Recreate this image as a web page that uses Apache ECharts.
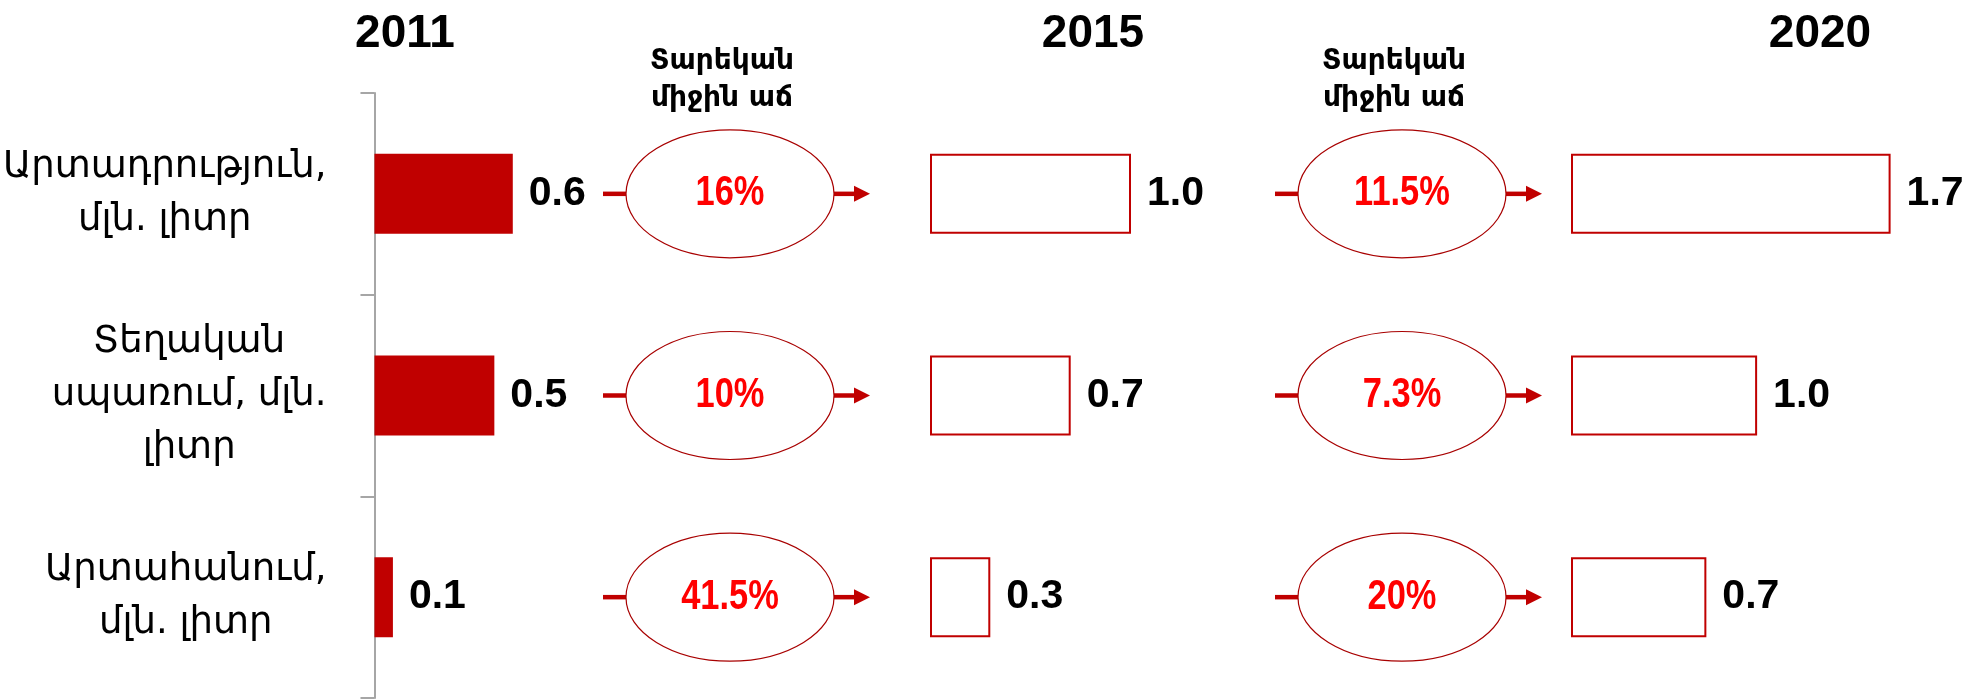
<!DOCTYPE html>
<html>
<head>
<meta charset="utf-8">
<script src="https://cdn.jsdelivr.net/npm/echarts@6/dist/echarts.min.js"></script>
<style>
html,body{margin:0;padding:0;background:#fff;}
#chart{width:1977px;height:699px;}
</style>
</head>
<body>
<div id="chart"></div>
<script>
// ---- data ----
const categories = ['Արտադրություն,\nմլն. լիտր', 'Տեղական\nսպառում, մլն.\nլիտր', 'Արտահանում,\nմլն. լիտր'];
const years = ['2011', '2015', '2020'];
const values2011 = [0.6, 0.52, 0.08];
const values2015 = [1.0, 0.7, 0.3];
const values2020 = [1.7, 0.99, 0.72];
const growth2011to2015 = [16, 10, 41.5];
const growth2015to2020 = [11.5, 7.3, 20];
const growthHeader = 'Տարեկան\nմիջին աճ';

// ---- styles ----
const RED = '#C00000';
const TOP = 93, HEIGHT = 605;
const armFont = "'DejaVu Sans', sans-serif";
const numFont = "'Liberation Sans', Arial, sans-serif";

const chart = echarts.init(document.getElementById('chart'), null, {renderer: 'canvas'});

function catAxis(gridIndex, show) {
  return {
    type: 'category', gridIndex: gridIndex, data: categories, inverse: true,
    show: show,
    axisLine: {show: show, lineStyle: {color: '#A6A6A6', width: 2}},
    axisTick: {show: show, length: 14, lineStyle: {color: '#A6A6A6', width: 2}},
    axisLabel: {
      show: show, interval: 0, margin: 48, align: 'right',
      formatter: function (v) {
        return v.split('\n').map(function (s) { return '{c|' + s + '}'; }).join('\n');
      },
      rich: {c: {align: 'center', fontSize: 37, lineHeight: 53, fontFamily: armFont, color: '#000'}}
    }
  };
}
function valAxis(gridIndex, min, max) {
  return {type: 'value', gridIndex: gridIndex, min: min, max: max, show: false, splitLine: {show: false}};
}
function valueLabel() {
  return {
    show: true, position: 'right', distance: 16,
    fontFamily: numFont, fontWeight: 'bold', fontSize: 41, color: '#000',
    formatter: function (p) { return p.value.toFixed(1); }
  };
}
function growthRender(params, api) {
  const c = api.coord([0, api.value(1)]);
  const cx = c[0], cy = c[1], rx = 104, ry = 64;
  const stub = 23, arrow = 36, head = 16;
  return {
    type: 'group',
    children: [
      {type: 'line', shape: {x1: cx - rx - stub, y1: cy, x2: cx - rx, y2: cy}, style: {stroke: RED, lineWidth: 4.5}},
      {type: 'line', shape: {x1: cx + rx, y1: cy, x2: cx + rx + arrow - head + 1, y2: cy}, style: {stroke: RED, lineWidth: 4.5}},
      {type: 'polygon', shape: {points: [[cx + rx + arrow - head, cy - 8], [cx + rx + arrow, cy], [cx + rx + arrow - head, cy + 8]]}, style: {fill: RED}},
      {type: 'ellipse', shape: {cx: cx, cy: cy, rx: rx, ry: ry}, style: {fill: '#fff', stroke: '#A80000', lineWidth: 1.2}},
      {type: 'text', x: cx, y: cy, scaleX: 0.82, style: {
        text: api.value(2) + '%', fill: '#FF0000', fontFamily: numFont, fontWeight: 'bold', fontSize: 42,
        align: 'center', verticalAlign: 'middle'}}
    ]
  };
}

const yearStyle = {fontFamily: numFont, fontWeight: 'bold', fontSize: 46, color: '#000'};
const headStyle = {fontFamily: armFont, fontWeight: 'bold', fontSize: 28, lineHeight: 37, color: '#000'};

const option = {
  animation: false,
  backgroundColor: '#fff',
  title: [
    {text: years[0], left: 400, top: 6, textAlign: 'center', textStyle: yearStyle},
    {text: years[1], left: 1088, top: 6, textAlign: 'center', textStyle: yearStyle},
    {text: years[2], left: 1815, top: 6, textAlign: 'center', textStyle: yearStyle},
    {text: growthHeader, left: 717, top: 38, textAlign: 'center', textStyle: headStyle},
    {text: growthHeader, left: 1389, top: 38, textAlign: 'center', textStyle: headStyle}
  ],
  grid: [
    {left: 373, top: TOP, width: 232, height: HEIGHT},
    {left: 930, top: TOP, width: 201, height: HEIGHT},
    {left: 1571, top: TOP, width: 376, height: HEIGHT},
    {left: 603, top: TOP, width: 254, height: HEIGHT},
    {left: 1275, top: TOP, width: 254, height: HEIGHT}
  ],
  xAxis: [valAxis(0, 0, 1), valAxis(1, 0, 1), valAxis(2, 0, 2), valAxis(3, -1, 1), valAxis(4, -1, 1)],
  yAxis: [catAxis(0, true), catAxis(1, false), catAxis(2, false), catAxis(3, false), catAxis(4, false)],
  series: [
    {type: 'bar', xAxisIndex: 0, yAxisIndex: 0, data: values2011, barWidth: 80,
      itemStyle: {color: RED}, label: valueLabel()},
    {type: 'bar', xAxisIndex: 1, yAxisIndex: 1, data: values2015, barWidth: 80,
      itemStyle: {color: '#fff', borderColor: RED, borderWidth: 2}, label: valueLabel()},
    {type: 'bar', xAxisIndex: 2, yAxisIndex: 2, data: values2020, barWidth: 80,
      itemStyle: {color: '#fff', borderColor: RED, borderWidth: 2}, label: valueLabel()},
    {type: 'custom', xAxisIndex: 3, yAxisIndex: 3, coordinateSystem: 'cartesian2d',
      encode: {x: 0, y: 1}, renderItem: growthRender,
      data: growth2011to2015.map(function (g, i) { return [0, i, g]; })},
    {type: 'custom', xAxisIndex: 4, yAxisIndex: 4, coordinateSystem: 'cartesian2d',
      encode: {x: 0, y: 1}, renderItem: growthRender,
      data: growth2015to2020.map(function (g, i) { return [0, i, g]; })}
  ]
};
chart.setOption(option);
</script>
</body>
</html>
